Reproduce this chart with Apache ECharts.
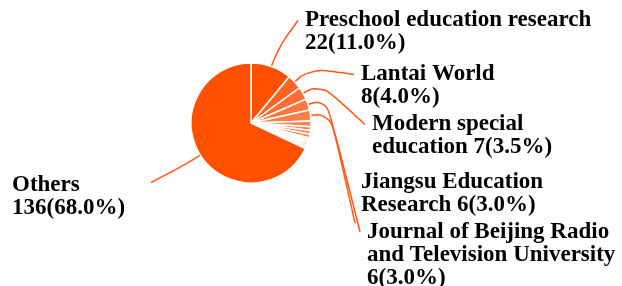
<!DOCTYPE html>
<html>
<head>
<meta charset="utf-8">
<script src="https://cdn.jsdelivr.net/npm/echarts@6/dist/echarts.min.js"></script>
<style>
html,body{margin:0;padding:0;background:#fff;}
#main{width:622px;height:286px;}
</style>
</head>
<body>
<div id="main"></div>
<script>
// 期刊分布数据
var journalNames = ['Preschool education research', 'Lantai World', 'Modern special education',
	'Jiangsu Education Research', 'Journal of Beijing Radio and Television University',
	'', '', '', '', '', '', '', '', '', '', 'Others'];
var journalCounts = [22, 8, 7, 6, 6, 3, 2, 2, 2, 1, 1, 1, 1, 1, 1, 136];
var sliceColors = ['#ff5000', '#ff6424', '#ff6e34', '#ff7840', '#ff7e4a',
	'#ff8656', '#ff8656', '#ff8a5c', '#ff8a5c', '#ff8e62', '#ff8e62', '#ff9268', '#ff9268', '#ff966e', '#ff966e', '#ff5000'];

var pieCenter = [251, 123];
var lineH = 23;
// 标签位置 [x, y(中心), 折行宽度, 连线端点, 数值是否另起一行]
var labelPos = {
	0: [305, 32, 0, 'first', true],
	1: [361, 86, 0, 'first', true],
	2: [372, 136, 200, 'first', false],
	3: [361, 194, 200, 'below', false],
	4: [367, 255, 256, 'first', true],
	15: [12, 197, 0, 'left', true]
};

var values = [];
for (var i = 0; i < journalNames.length; i++) {
	var item = {value: journalCounts[i], name: journalNames[i], itemStyle: {color: sliceColors[i]}};
	var p = labelPos[i];
	if (p) {
		item.label = {show: true};
		if (p[2]) {
			item.label.width = p[2];
			item.label.overflow = 'break';
		}
		item.labelLine = {show: true};
	} else {
		item.label = {show: false};
		item.labelLine = {show: false};
	}
	values.push(item);
}

function labelText(params) {
	var pct = params.value + '(' + params.percent.toFixed(1) + '%)';
	var p = labelPos[params.dataIndex];
	return p && p[4] ? params.name + '\n' + pct : params.name + ' ' + pct;
}

var myChart = echarts.init(document.getElementById('main'));
var option = {
	animation: false,
	series: [
		{
			type: 'pie',
			center: pieCenter,
			radius: 60,
			startAngle: 90,
			percentPrecision: 1,
			avoidLabelOverlap: false,
			itemStyle: {borderColor: '#fff', borderWidth: 1.5},
			label: {
				color: '#000',
				fontFamily: 'Liberation Serif',
				fontWeight: 'bold',
				fontSize: 23,
				lineHeight: lineH,
				formatter: labelText
			},
			labelLine: {
				smooth: 0.5,
				length: 15,
				length2: 20,
				lineStyle: {color: '#ff5a1a', width: 1.5}
			},
			labelLayout: function (params) {
				var p = labelPos[params.dataIndex];
				if (!p || !params.labelLinePoints) return {};
				var r = params.labelRect;
				var top = p[1] - r.height / 2;
				var e = params.labelLinePoints[0];
				var dx = e[0] - pieCenter[0], dy = e[1] - pieCenter[1];
				var len = Math.sqrt(dx * dx + dy * dy);
				var bend = [e[0] + dx / len * 20, e[1] + dy / len * 20];
				var end;
				if (p[3] == 'left') {
					end = [p[0] + r.width + 26, top + lineH / 2 - 3];
				} else if (p[3] == 'below') {
					end = [p[0] - 6, top + r.height + 6];
				} else {
					end = [p[0] - 7, top + lineH / 2];
				}
				return {
					x: p[0], y: p[1], align: 'left', verticalAlign: 'middle',
					labelLinePoints: [e, bend, end]
				};
			},
			data: values
		}
	]
};
myChart.setOption(option);
</script>
</body>
</html>
